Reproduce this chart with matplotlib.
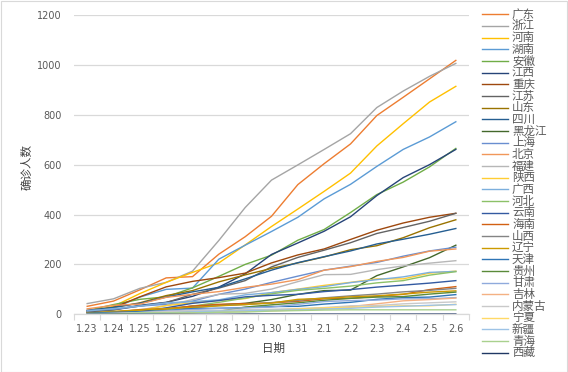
import matplotlib
matplotlib.use("Agg")
import matplotlib.pyplot as plt
from matplotlib.lines import Line2D
from matplotlib.patches import Rectangle
import numpy as np

plt.rcParams['font.family'] = ['DejaVu Sans', 'Noto Sans CJK SC']

dates = ["1.23", "1.24", "1.25", "1.26", "1.27", "1.28", "1.29", "1.30",
         "1.31", "2.1", "2.2", "2.3", "2.4", "2.5", "2.6"]

# 各省累计确诊 (从图上读出, 湖北不在图里)
guangdong = [32, 53, 98, 146, 151, 241, 311, 393, 520, 604, 683, 797, 870, 944, 1018]
zhejiang = [43, 62, 104, 128, 173, 296, 428, 538, 599, 661, 724, 829, 895, 954, 1006]
henan = [9, 32, 83, 128, 168, 206, 278, 352, 422, 493, 566, 675, 764, 851, 914]
hunan = [9, 24, 69, 100, 105, 221, 277, 332, 389, 463, 521, 593, 661, 711, 772]
anhui = [15, 39, 60, 70, 106, 152, 200, 237, 297, 340, 408, 480, 530, 591, 665]
jiangxi = [7, 18, 36, 48, 72, 109, 162, 240, 286, 333, 391, 476, 548, 600, 661]
chongqing = [9, 27, 70, 110, 132, 147, 165, 206, 238, 262, 300, 337, 366, 389, 405]
jiangsu = [9, 18, 33, 47, 80, 105, 135, 190, 228, 257, 287, 324, 348, 373, 405]
shandong = [15, 27, 46, 75, 95, 130, 158, 184, 206, 230, 259, 275, 307, 347, 379]
sichuan = [15, 28, 44, 69, 90, 108, 142, 177, 207, 231, 254, 282, 301, 321, 344]
heilongjiang = [4, 9, 15, 21, 33, 38, 44, 59, 80, 95, 97, 155, 190, 227, 277]
shanghai = [16, 20, 33, 40, 53, 80, 101, 128, 153, 177, 193, 208, 233, 254, 269]
beijing = [22, 36, 41, 68, 80, 91, 108, 121, 139, 177, 191, 212, 228, 253, 262]
fujian = [5, 10, 18, 35, 59, 80, 84, 101, 131, 159, 160, 179, 194, 205, 215]
shaanxi = [3, 5, 15, 35, 46, 56, 63, 87, 101, 116, 128, 142, 142, 165, 173]
guangxi = [13, 23, 33, 46, 51, 58, 78, 87, 100, 111, 127, 139, 150, 168, 172]
hebei = [2, 8, 13, 18, 33, 48, 65, 82, 96, 104, 113, 126, 135, 157, 171]
yunnan = [2, 5, 11, 26, 44, 55, 70, 76, 80, 91, 99, 109, 117, 125, 135]
hainan = [5, 8, 19, 22, 33, 40, 43, 46, 52, 62, 64, 72, 80, 99, 111]
shanxi = [1, 6, 9, 13, 27, 35, 39, 47, 56, 66, 74, 81, 90, 96, 104]
liaoning = [4, 12, 17, 23, 27, 34, 39, 45, 60, 64, 70, 74, 81, 89, 94]
tianjin = [4, 8, 10, 14, 23, 24, 27, 31, 32, 41, 48, 60, 67, 69, 79]
guizhou = [3, 4, 5, 7, 9, 12, 29, 38, 46, 56, 64, 69, 71, 81, 89]
gansu = [2, 4, 7, 14, 19, 24, 26, 29, 40, 51, 55, 57, 62, 62, 67]
jilin = [1, 3, 4, 6, 8, 9, 14, 14, 17, 23, 31, 42, 54, 59, 65]
neimenggu = [1, 2, 7, 11, 15, 16, 19, 20, 23, 27, 34, 35, 42, 46, 50]
ningxia = [1, 2, 3, 4, 7, 11, 12, 17, 21, 26, 28, 31, 34, 34, 40]
xinjiang = [2, 3, 4, 5, 10, 13, 14, 17, 18, 21, 24, 29, 32, 36, 39]
qinghai = [0, 1, 6, 6, 6, 8, 9, 13, 15, 17, 18, 18, 18, 18, 18]
xizang = [0, 0, 0, 0, 0, 0, 1, 1, 1, 1, 1, 1, 1, 1, 1]

names = ["广东", "浙江", "河南", "湖南", "安徽", "江西", "重庆", "江苏", "山东", "四川",
         "黑龙江", "上海", "北京", "福建", "陕西", "广西", "河北", "云南", "海南", "山西",
         "辽宁", "天津", "贵州", "甘肃", "吉林", "内蒙古", "宁夏", "新疆", "青海", "西藏"]
series = [guangdong, zhejiang, henan, hunan, anhui, jiangxi, chongqing, jiangsu,
          shandong, sichuan, heilongjiang, shanghai, beijing, fujian, shaanxi, guangxi,
          hebei, yunnan, hainan, shanxi, liaoning, tianjin, guizhou, gansu, jilin,
          neimenggu, ningxia, xinjiang, qinghai, xizang]

# Office 2016 默认配色 (第一个蓝色是湖北, 已去掉)
colors = ["#ED7D31", "#A5A5A5", "#FFC000", "#5B9BD5", "#70AD47", "#264478",
          "#9E480E", "#636363", "#997300", "#255E91", "#43682B", "#698ED0",
          "#F1975A", "#B7B7B7", "#FFCD33", "#7CAFDD", "#8CC168", "#335AA1",
          "#D26012", "#848484", "#CC9A00", "#2E75B6", "#5A8A39", "#8FAADC",
          "#F4B183", "#C9C9C9", "#FFD966", "#9DC3E6", "#A9D18E", "#203864"]

W, H = 568, 372
fig = plt.figure(figsize=(W / 100, H / 100), dpi=100)
ax = fig.add_axes([74 / W, 1 - 314.3 / H, (469 - 74) / W, (314.3 - 15) / H])

x = np.arange(len(dates))
for vals, c in zip(series, colors):
    ax.plot(x, vals, color=c, lw=1.0)

ax.set_xlim(-0.5, len(dates) - 0.5)
ax.set_ylim(0, 1200)
ax.set_yticks(range(0, 1201, 200))
ax.set_xticks(x)
ax.set_xticklabels(dates)
ax.set_xticks(np.arange(-0.5, len(dates), 1), minor=True)
ax.tick_params(axis='x', which='major', length=0, pad=7, labelsize=7, labelcolor='#595959')
ax.tick_params(axis='x', which='minor', length=4, width=0.8, color='#D9D9D9', direction='out')
ax.tick_params(axis='y', length=0, pad=9, labelsize=7, labelcolor='#595959')
ax.grid(axis='y', color='#D9D9D9', lw=0.9)
ax.set_axisbelow(True)
for s in ['top', 'right', 'left']:
    ax.spines[s].set_visible(False)
ax.spines['bottom'].set_color('#D9D9D9')
ax.spines['bottom'].set_linewidth(0.9)

fig.text(27 / W, 1 - 167 / H, "确诊人数", rotation=90, ha='center', va='center',
         fontsize=8.3, color='#404040', family=['Noto Sans CJK SC'])
fig.text(273 / W, 1 - 348 / H, "日期", ha='center', va='center',
         fontsize=8.3, color='#404040', family=['Noto Sans CJK SC'])

# 图例, 手动画在右边
for i, (n, c) in enumerate(zip(names, colors)):
    yy = 1 - (14.3 + i * 11.67) / H
    fig.add_artist(Line2D([481.7 / W, 508.3 / W], [yy, yy], color=c, lw=1.0,
                          transform=fig.transFigure))
    fig.text(512 / W, yy, n, ha='left', va='center', fontsize=8.3,
             color='#595959', family=['Noto Sans CJK SC'])

fig.add_artist(Rectangle((0.5 / W, 0.5 / H), 1 - 1.5 / W, 1 - 1.5 / H, fill=False,
                         edgecolor='#D9D9D9', lw=0.8, transform=fig.transFigure))

fig.savefig("out.png", dpi=100)
